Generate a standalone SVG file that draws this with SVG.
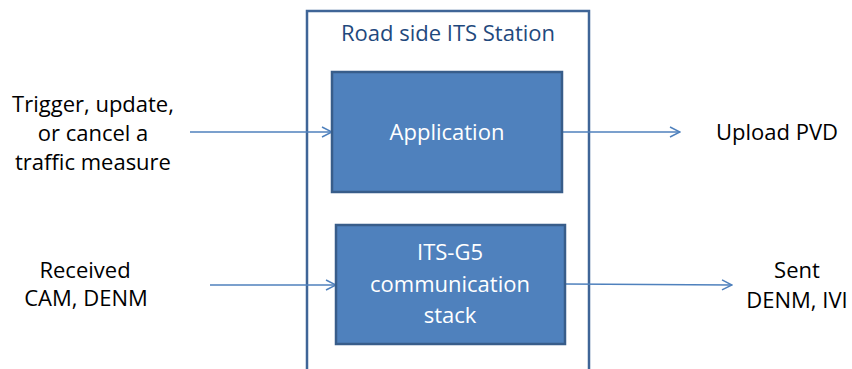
<svg xmlns="http://www.w3.org/2000/svg" width="852" height="369" viewBox="0 0 852 369">
<style>
.t{font-family:"Open Sans","Liberation Sans",sans-serif;font-size:22px;text-anchor:middle;fill:#000}
.w{fill:#fff}
.box{fill:#4f81bd;stroke:#385d8a;stroke-width:2.5}
.c{stroke:#4f81bd;stroke-width:1.5;fill:none}
</style>
<defs>
<marker id="a" viewBox="0 0 12 12" refX="11" refY="6" markerWidth="12" markerHeight="12" markerUnits="userSpaceOnUse" orient="auto">
<path d="M1,1 L11,6 L1,11" fill="none" stroke="#4f81bd" stroke-width="1.5"/>
</marker>
</defs>
<g id="station">
<rect x="307" y="11" width="282" height="370" fill="#fff" stroke="#3f6597" stroke-width="2.5"/>
<text class="t" x="448" y="41" style="fill:#1f497d">Road side ITS Station</text>
</g>
<g id="connectors">
<line class="c" x1="190" y1="132" x2="332" y2="132" marker-end="url(#a)"/>
<line class="c" x1="562" y1="132" x2="680" y2="132" marker-end="url(#a)"/>
<line class="c" x1="210" y1="285" x2="336" y2="285" marker-end="url(#a)"/>
<line class="c" x1="565" y1="284" x2="732" y2="285" marker-end="url(#a)"/>
</g>
<g id="application">
<rect class="box" x="332" y="72" width="230" height="120"/>
<text class="t w" x="447" y="140">Application</text>
</g>
<g id="stack">
<rect class="box" x="336" y="225" width="229" height="119"/>
<text class="t w" x="450" y="260">ITS-G5</text>
<text class="t w" x="450" y="292">communication</text>
<text class="t w" x="450" y="323">stack</text>
</g>
<g id="trigger">
<text class="t" x="93" y="112">Trigger, update,</text>
<text class="t" x="93" y="141">or cancel a</text>
<text class="t" x="93" y="170">traffic measure</text>
</g>
<g id="received">
<text class="t" x="85" y="278">Received</text>
<text class="t" x="86" y="306">CAM, DENM</text>
</g>
<g id="upload">
<text class="t" x="777" y="140">Upload PVD</text>
</g>
<g id="sent">
<text class="t" x="797" y="278">Sent</text>
<text class="t" x="797" y="308">DENM, IVI</text>
</g>
</svg>
